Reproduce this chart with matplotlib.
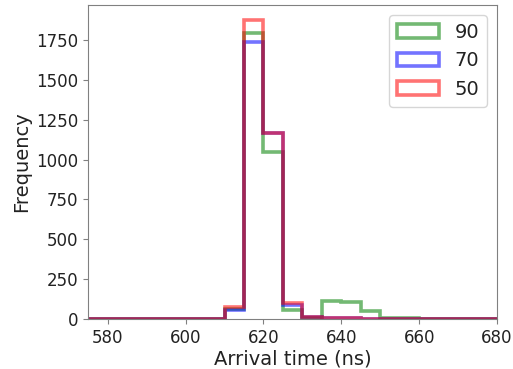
import numpy as np
import matplotlib
matplotlib.use("Agg")
import matplotlib.pyplot as plt

bin_edges = np.arange(560, 705, 5)
labels = ["90", "70", "50"]
colors = ["green", "blue", "red"]
# counts keyed by bin start (ns)
counts_90 = {610: 60, 615: 1792, 620: 1050, 625: 56, 630: 3, 635: 115, 640: 105, 645: 50, 650: 8, 655: 5}
counts_70 = {610: 56, 615: 1736, 620: 1169, 625: 88, 630: 12, 635: 3, 640: 2}
counts_50 = {610: 77, 615: 1876, 620: 1169, 625: 98, 630: 10, 635: 3, 640: 2}
series = [counts_90, counts_70, counts_50]

fig = plt.figure(figsize=(5.13, 3.69), dpi=100)
ax = fig.add_axes([0.172, 0.136, 0.797, 0.85])
starts = bin_edges[:-1]
for cnt, lab, col in zip(series, labels, colors):
    w = [cnt.get(int(s), 0) for s in starts]
    ax.hist(starts, bins=bin_edges, weights=w, histtype="step", lw=2.6, alpha=0.55, color=col, label=lab)

ax.set_xlim(575, 680)
ax.set_xticks([580, 600, 620, 640, 660, 680])
for s in ax.spines.values():
    s.set_color("#808080")
ax.tick_params(labelsize=12, color="#808080", labelcolor="#222222")
ax.set_xlabel("Arrival time (ns)", fontsize=14, labelpad=2, color="#222222")
ax.set_ylabel("Frequency", fontsize=14, color="#222222")
leg = ax.legend(fontsize=14, handlelength=2.2)
for t in leg.get_texts():
    t.set_color("#222222")
fig.savefig("out.png", dpi=100)
